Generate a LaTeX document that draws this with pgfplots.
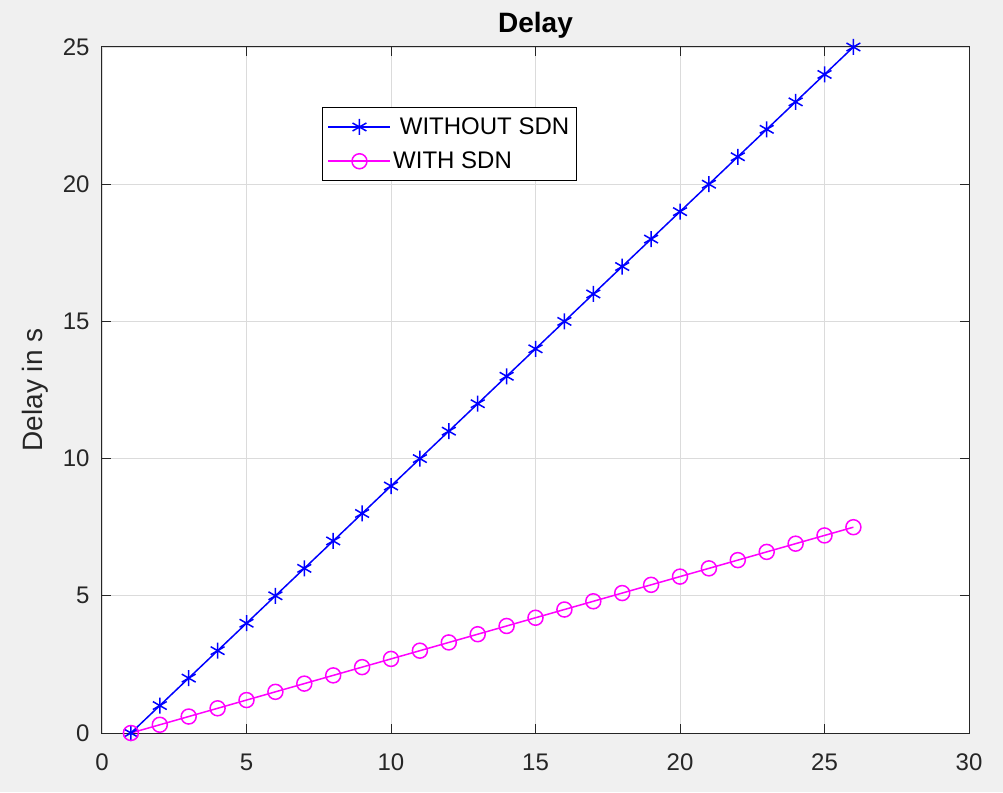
\documentclass[border=0pt]{standalone}
\usepackage{pgfplots}
\pgfplotsset{compat=1.18}
\usepackage{fontspec}
\setmainfont{Liberation Sans}
\definecolor{bgc}{RGB}{240,240,240}
\definecolor{axc}{RGB}{38,38,38}
\definecolor{mblue}{RGB}{0,0,255}
\definecolor{mmag}{RGB}{255,0,255}
\begin{document}
\begin{tikzpicture}[x=1pt,y=1pt]
\fill[bgc] (-102,-59) rectangle (901,733);
\begin{axis}[
  at={(0,0)}, anchor=south west,
  scale only axis, width=867pt, height=686pt,
  xmin=0, xmax=30, ymin=0, ymax=25,
  xtick={0,5,...,30}, ytick={0,5,...,25},
  axis background/.style={fill=white},
  axis line style={color=axc, line width=1pt},
  tick style={color=axc, line width=1pt},
  major tick length=9pt,
  tick align=inside,
  xtick pos=both, ytick pos=both,
  grid=major,
  grid style={color=black!14, line width=0.7pt},
  ticklabel style={font=\fontsize{24}{28}\selectfont, color=axc},
  /pgf/number format/assume math mode=true,
  xticklabel style={yshift=-17pt},
  yticklabel style={xshift=-9pt},
  title={\textbf{Delay}},
  title style={font=\fontsize{28}{32}\selectfont, yshift=-1pt},
  ylabel={Delay in s},
  ylabel style={font=\fontsize{28}{32}\selectfont, color=axc, yshift=8pt},
  legend style={at={(0.254,0.912)}, anchor=north west, draw=black, line width=1pt,
    font=\fontsize{24}{28}\selectfont, inner xsep=5pt, inner ysep=8pt,
    row sep=12pt, cells={anchor=west}},
  legend image code/.code={
    \draw[mark repeat=2, mark phase=2, #1] plot coordinates {(0pt,0pt) (31pt,0pt) (62pt,0pt)};
  },
]
\addplot[color=mblue, line width=1.5pt, mark=asterisk, mark size=8pt, mark options={line width=1.5pt}] coordinates {
(1,0)(2,1)(3,2)(4,3)(5,4)(6,5)(7,6)(8,7)(9,8)(10,9)(11,10)(12,11)(13,12)
(14,13)(15,14)(16,15)(17,16)(18,17)(19,18)(20,19)(21,20)(22,21)(23,22)(24,23)(25,24)(26,25)};
\addlegendentry{\ WITHOUT SDN}
\addplot[color=mmag, line width=1.5pt, mark=o, mark size=7.5pt, mark options={line width=1.5pt}] coordinates {
(1,0)(2,0.3)(3,0.6)(4,0.9)(5,1.2)(6,1.5)(7,1.8)(8,2.1)(9,2.4)(10,2.7)(11,3.0)(12,3.3)(13,3.6)
(14,3.9)(15,4.2)(16,4.5)(17,4.8)(18,5.1)(19,5.4)(20,5.7)(21,6.0)(22,6.3)(23,6.6)(24,6.9)(25,7.2)(26,7.5)};
\addlegendentry{WITH SDN}
\end{axis}
\end{tikzpicture}
\end{document}
